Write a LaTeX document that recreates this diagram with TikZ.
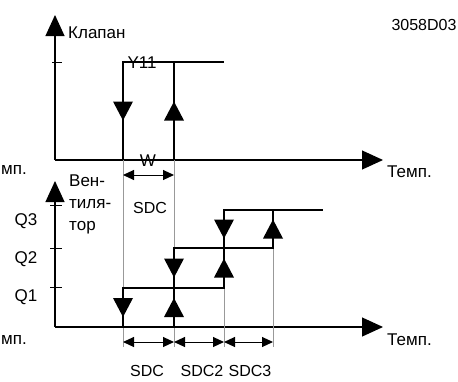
\documentclass[tikz,border=0pt]{standalone}
\usepackage{fontspec}
\setmainfont{Liberation Sans}
\usetikzlibrary{arrows.meta,positioning,decorations.markings}

\begin{document}
\begin{tikzpicture}[
    x=1pt,y=-1pt,
    every node/.style={font=\fontsize{17}{22}\selectfont,inner sep=0pt},
    small/.style={font=\fontsize{16}{20}\selectfont},
    axis/.style={line width=1.1pt,-{Triangle[length=21pt,width=19pt]}},
    tick/.style={line width=0.9pt},
    stepline/.style={line width=1.4pt},
    guide/.style={line width=0.8pt,gray!80},
    dim/.style={line width=1pt,{Triangle[length=11pt,width=10pt]}-{Triangle[length=11pt,width=10pt]}},
    midarr/.style={postaction={decorate},decoration={markings,
        mark=at position 0.5 with {\fill (-9.5pt,-10pt) -- (9.5pt,0pt) -- (-9.5pt,10pt) -- cycle;}}}
]
\useasboundingbox (0,0) rectangle (458,381);

% upper chart: valve
\coordinate (uo) at (55,160);
\coordinate (uy) at (55,15);
\coordinate (ux) at (383,160);
\coordinate (vOn) at (123,160);
\coordinate (vOff) at (174,160);
\coordinate (vOnT) at (123,62);
\coordinate (vOffT) at (174,62);
\coordinate (vEnd) at (224,62);

\draw[axis] (uo) -- (uy);
\draw[axis] (uo) -- (ux);
\draw[line width=2pt] (73,160) -- (vOff);
\draw[tick] (52,62) -- (62,62);
\draw[stepline] (vOn) -- (vOnT) -- (vEnd);
\draw[stepline] (vOffT) -- (vOff);
\path[midarr] (vOnT) -- (vOn);
\path[midarr] (vOff) -- (vOffT);

\node[anchor=west] (klapan) at (68,33) {Клапан};
\node[small] (code) at (424,25) {3058D03};
\node (y11) at (142,63) {Y11};
\node[anchor=west] (tempU) at (387,172) {Темп.};
\node[anchor=west] (tempUL) at (1,170) {мп.};
\node (w) at (148,161) {W};

% guide lines down through both charts
\coordinate (g1) at (123,347);
\coordinate (g2) at (174,347);
\coordinate (g3) at (224,347);
\coordinate (g4) at (273,347);
\draw[guide] (vOn) -- (g1);
\draw[guide] (vOff) -- (g2);

\draw[dim] (123,175) -- (174,175);
\node[small] (sdcW) at (150,208) {SDC};

% lower chart: fan
\coordinate (lo) at (55,327);
\coordinate (ly) at (55,181);
\coordinate (lx) at (383,327);

\draw[axis] (lo) -- (ly);
\draw[axis] (lo) -- (lx);
\draw[line width=2pt] (73,327) -- (174,327);
\foreach \yy in {205,248,287}
    \draw[tick] (50,\yy) -- (62,\yy);

\node[anchor=west,align=left] (fan) at (69,204) {Вен-\\тиля-\\тор};
\node (q3) at (26,221) {Q3};
\node (q2) at (26,259) {Q2};
\node (q1) at (26,297) {Q1};

\coordinate (a0) at (123,327);
\coordinate (a1) at (123,288);
\coordinate (b0) at (174,327);
\coordinate (b1) at (174,288);
\coordinate (b2) at (174,248);
\coordinate (c1) at (224,288);
\coordinate (c2) at (224,248);
\coordinate (c3) at (224,210);
\coordinate (d2) at (273,248);
\coordinate (d3) at (273,210);
\coordinate (e3) at (323,210);

\draw[guide] (c1) -- (g3);
\draw[guide] (d2) -- (g4);
\draw[stepline] (a0) -- (a1) -- (c1) -- (c3) -- (e3);
\draw[stepline] (b0) -- (b2) -- (d2) -- (d3);

\path[midarr] (a1) -- (a0);
\path[midarr] (b2) -- (b1);
\path[midarr] (b0) -- (b1);
\path[midarr] (c3) -- (c2);
\path[midarr] (c1) -- (c2);
\path[midarr] (d2) -- (d3);

\draw[dim] (123,342) -- (174,342);
\draw[dim] (174,342) -- (224,342);
\draw[dim] (224,342) -- (273,342);

\node[anchor=west] (tempL) at (387,340) {Темп.};
\node[anchor=west] (tempLL) at (1,340) {мп.};
\node[small] (sdc1) at (147,371) {SDC};
\node[small] (sdc2) at (202,371) {SDC2};
\node[small] (sdc3) at (250,371) {SDC3};
\end{tikzpicture}
\end{document}
